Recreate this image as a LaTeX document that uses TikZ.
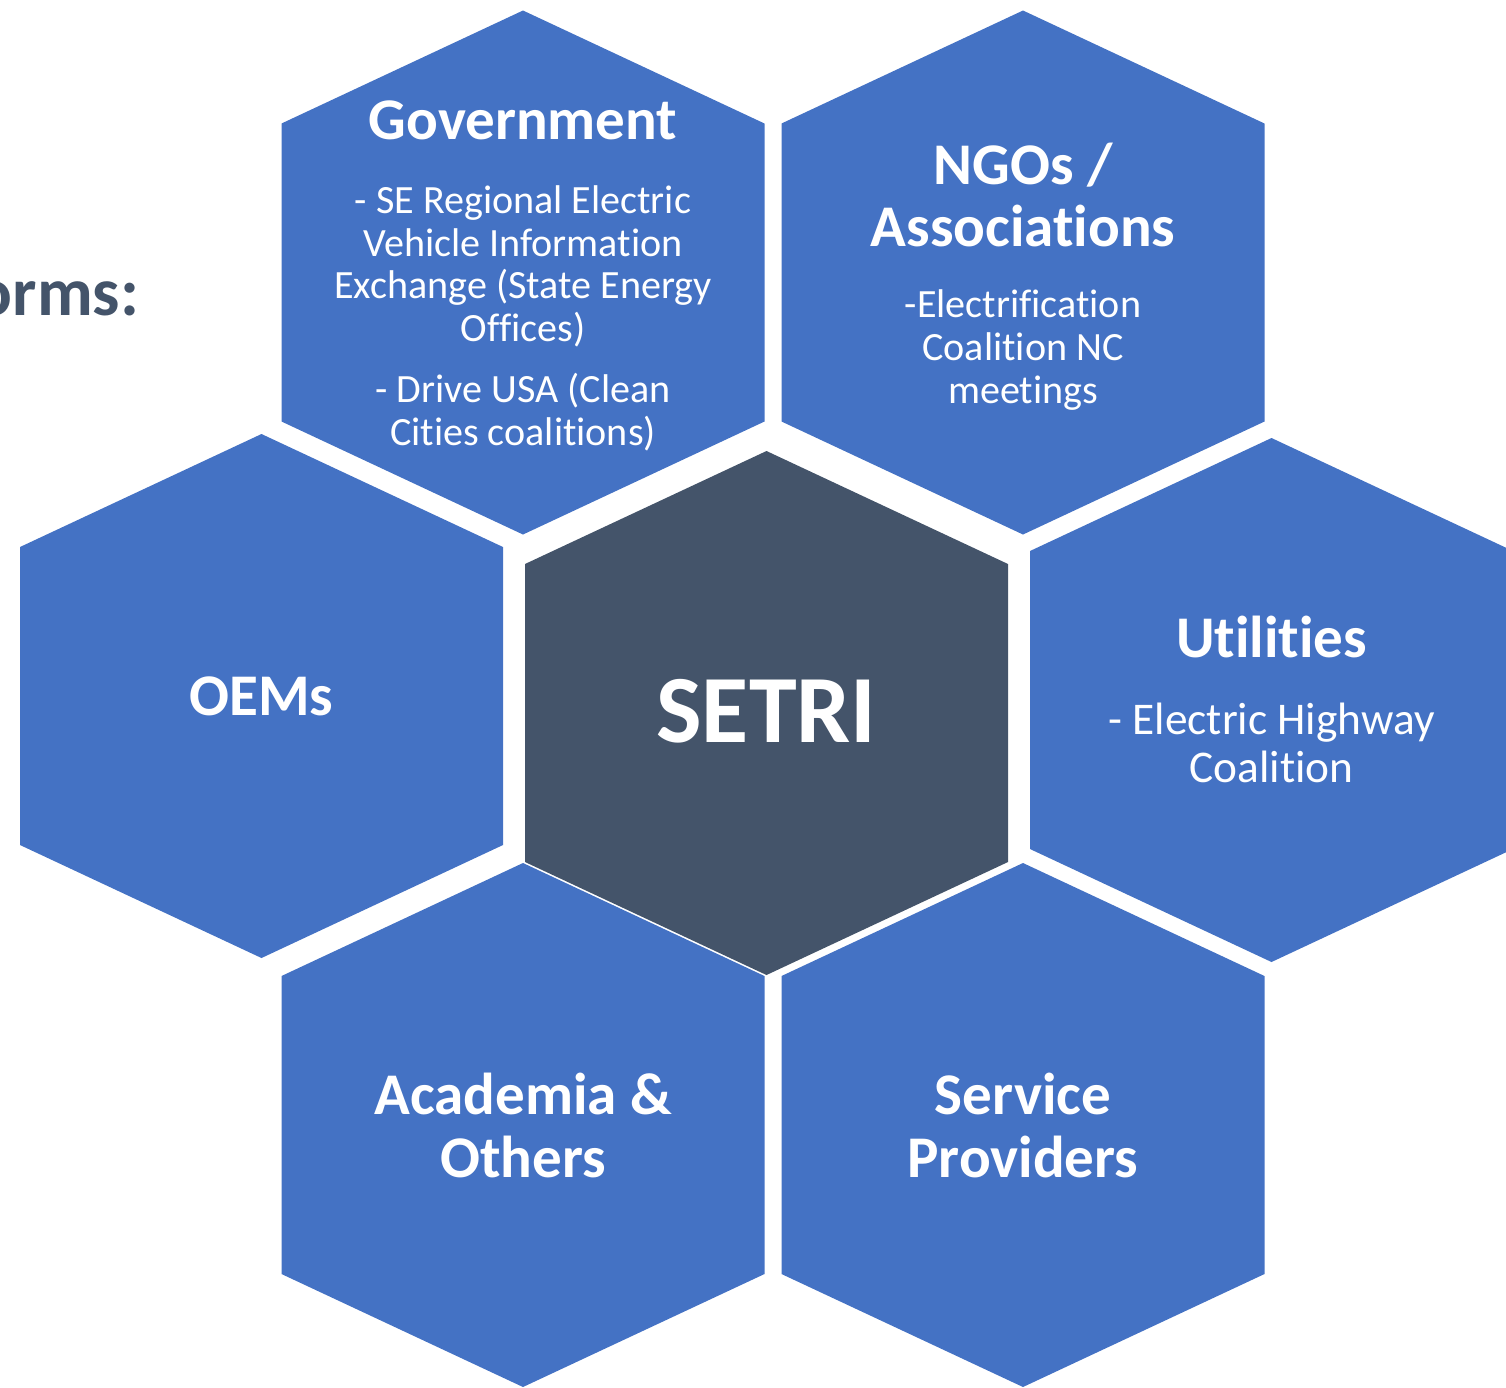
\documentclass[tikz,border=0pt]{standalone}
\usepackage{fontspec}
\setmainfont[Ligatures=NoCommon]{Carlito}
\definecolor{hexblue}{HTML}{4472C4}
\definecolor{slate}{HTML}{44546A}
\tikzset{
  title/.style={text=white, font=\bfseries\fontsize{16.8}{17.9}\selectfont, align=center, inner sep=0pt},
  body/.style={text=white, font=\fontsize{11.4}{12.2}\selectfont, align=center, inner sep=0pt},
}
% #1,#2 = centre, #3 = fill colour
\newcommand\hexcell[3]{%
  \fill[#3] (#1,#2-262) -- (#1+241.5,#2-149) -- (#1+241.5,#2+149) -- (#1,#2+262)
    -- (#1-241.5,#2+149) -- (#1-241.5,#2-149) -- cycle;}
\begin{document}
\begin{tikzpicture}[x=0.01cm, y=-0.01cm, line join=round]
\useasboundingbox (0,0) rectangle (1506,1387);
\clip (0,0) rectangle (1506,1387);
% honeycomb
\hexcell{523}{272.5}{hexblue}
\hexcell{1023}{272.5}{hexblue}
\hexcell{261.5}{696}{hexblue}
\hexcell{766.5}{713}{slate}
\hexcell{1271.5}{700}{hexblue}
\hexcell{523}{1125}{hexblue}
\hexcell{1023}{1125}{hexblue}
% heading, cut at the left edge
\node[anchor=base east, text=slate, font=\bfseries\fontsize{19.5}{23}\selectfont, inner sep=0pt] (head) at (140,315) {orms:};
% labels
\node[title] (gov) at (523,120) {Government};
\node[body] (govtxt) at (523,318) {- SE Regional Electric\\Vehicle Information\\Exchange (State Energy\\Offices)\\[5pt]- Drive USA (Clean\\Cities coalitions)};
\node[title] (ngo) at (1023,195) {NGOs /\\Associations};
\node[body] (ngotxt) at (1023,350) {-Electrification\\Coalition NC\\meetings};
\node[title] (oem) at (261.5,696) {OEMs};
\node[text=white, font=\bfseries\fontsize{27.4}{30}\selectfont, inner sep=0pt] (setri) at (766.5,711) {SETRI};
\node[title] (util) at (1271.5,637) {Utilities};
\node[body, font=\fontsize{12.9}{13.7}\selectfont] (utiltxt) at (1271.5,743) {- Electric Highway\\Coalition};
\node[title] (acad) at (523,1125) {Academia \&\\Others};
\node[title] (serv) at (1023,1125) {Service\\Providers};
\end{tikzpicture}
\end{document}
